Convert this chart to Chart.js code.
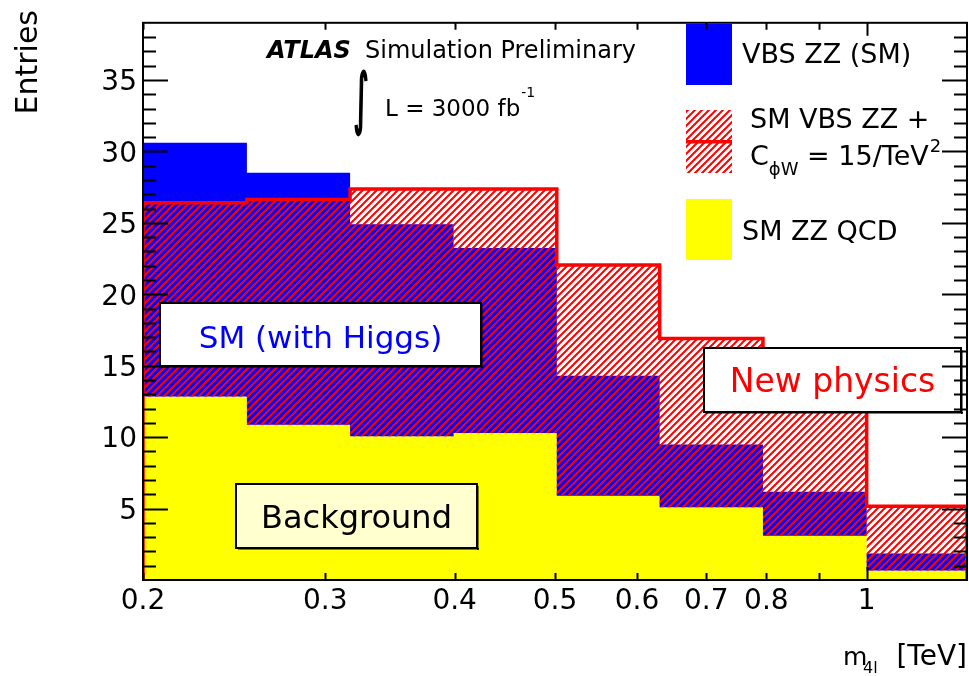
<!DOCTYPE html>
<html>
<head>
<meta charset="utf-8">
<script src="https://cdn.jsdelivr.net/npm/chart.js@4.4.1/dist/chart.umd.min.js"></script>
<style>
  html, body { margin: 0; padding: 0; background: #fff; }
  canvas { display: block; }
</style>
</head>
<body>
<canvas id="m4lChart" width="969" height="676"></canvas>
<script>
// m4l bin edges [TeV]
const binEdges = [0.2, 0.252, 0.317, 0.399, 0.502, 0.631, 0.794, 1.0, 1.25];
// entries per bin, one value per bin
const smZZQCD = [12.85, 10.86, 10.07, 10.29, 5.89, 5.09, 3.10, 0.66];
const vbsZZSM = [17.75, 17.64, 14.83, 12.95, 8.40, 4.40, 3.08, 1.19];
const vbsZZCphiW = [13.55, 15.78, 17.30, 17.08, 16.16, 11.81, 10.2, 4.50];

const xTickValues = [0.2, 0.3, 0.4, 0.5, 0.6, 0.7, 0.8, 0.9, 1.0];
const xTickLabels = ['0.2', '0.3', '0.4', '0.5', '0.6', '0.7', '0.8', '', '1'];
const yTickValues = [5, 10, 15, 20, 25, 30, 35];

const FONT = '"DejaVu Sans", "Liberation Sans", sans-serif';

function addUp(a, b) {
    return a.map((v, i) => v + b[i]);
}

// histogram as step points: one point per left edge, last edge repeats the last bin
function stepPoints(values, closed) {
    const pts = binEdges.map((e, i) => ({ x: e, y: values[Math.min(i, values.length - 1)] }));
    if (closed) {
        pts.unshift({ x: binEdges[0], y: 0 });
        pts.push({ x: binEdges[binEdges.length - 1], y: 0 });
    }
    return pts;
}

function makeHatch() {
    const c = document.createElement('canvas');
    c.width = 7; c.height = 7;
    const g = c.getContext('2d');
    g.strokeStyle = '#ff0000';
    g.lineWidth = 2;
    g.beginPath();
    g.moveTo(-1, 8); g.lineTo(8, -1);
    g.moveTo(-1, 1); g.lineTo(1, -1);
    g.moveTo(6, 8); g.lineTo(8, 6);
    g.stroke();
    return g.createPattern(c, 'repeat');
}

function put(ctx, str, x, y, size, opts) {
    opts = opts || {};
    ctx.font = (opts.style || '') + ' ' + size + 'px ' + FONT;
    ctx.fillStyle = opts.color || '#000';
    ctx.textAlign = opts.align || 'left';
    ctx.textBaseline = 'alphabetic';
    ctx.fillText(str, x, y);
    return ctx.measureText(str).width;
}

// draw a glyph stretched into a box (used for the integral sign)
function putFitted(ctx, str, size, box) {
    ctx.font = size + 'px ' + FONT;
    const m = ctx.measureText(str);
    const w = m.actualBoundingBoxLeft + m.actualBoundingBoxRight;
    const h = m.actualBoundingBoxAscent + m.actualBoundingBoxDescent;
    ctx.save();
    ctx.translate(box.x, box.y);
    ctx.scale(box.w / w, box.h / h);
    ctx.fillStyle = '#000';
    ctx.strokeStyle = '#000';
    ctx.lineWidth = 2.5;
    ctx.textAlign = 'left';
    ctx.textBaseline = 'alphabetic';
    ctx.fillText(str, m.actualBoundingBoxLeft, m.actualBoundingBoxAscent);
    ctx.strokeText(str, m.actualBoundingBoxLeft, m.actualBoundingBoxAscent);
    ctx.restore();
}

function labelBox(ctx, r, fill, str, color, size, baseline) {
    ctx.fillStyle = fill;
    ctx.fillRect(r.x, r.y, r.w, r.h);
    ctx.strokeStyle = '#000';
    ctx.lineWidth = 2;
    ctx.strokeRect(r.x, r.y, r.w, r.h);
    ctx.fillStyle = '#000';
    ctx.fillRect(r.x + r.w, r.y + 2, 1.5, r.h);
    ctx.fillRect(r.x + 2, r.y + r.h, r.w, 1.5);
    put(ctx, str, r.x + r.w / 2, baseline, size, { color: color, align: 'center' });
}

const hatch = makeHatch();

const rootStyle = {
    id: 'rootStyle',
    afterDraw(chart) {
        const { ctx, chartArea: a, scales: { x, y } } = chart;
        ctx.save();

        // y title
        ctx.save();
        ctx.translate(37, 10);
        ctx.rotate(-Math.PI / 2);
        put(ctx, 'Entries', 0, 0, 30, { align: 'right' });
        ctx.restore();

        // x title
        put(ctx, 'm', 843, 665, 25);
        put(ctx, '4l', 863, 673, 16);
        put(ctx, '[TeV]', 967, 665, 28, { align: 'right' });

        // ATLAS label
        put(ctx, 'ATLAS', 267, 58, 24, { style: 'italic bold' });
        put(ctx, 'Simulation Preliminary', 365, 58, 24);
        putFitted(ctx, '\u222B', 60, { x: 355, y: 70, w: 12, h: 65 });
        const lw = put(ctx, 'L = 3000 fb', 385, 116, 23);
        put(ctx, '-1', 385 + lw + 1, 97, 14);

        // legend
        ctx.fillStyle = '#0000ff';
        ctx.fillRect(686, 24, 46, 61);
        put(ctx, 'VBS ZZ (SM)', 742, 63, 27);
        ctx.fillStyle = hatch;
        ctx.fillRect(686, 110, 46, 63);
        ctx.fillStyle = '#ff0000';
        ctx.fillRect(686, 140, 46, 3.5);
        put(ctx, 'SM VBS ZZ +', 750, 128, 27);
        let cx = 750;
        cx += put(ctx, 'C', cx, 165, 27);
        cx += put(ctx, '\u03D5W', cx, 175, 18);
        cx += put(ctx, ' = 15/TeV', cx, 165, 27);
        put(ctx, '2', cx + 1, 152, 18);
        ctx.fillStyle = '#ffff00';
        ctx.fillRect(686, 199, 46, 61);
        put(ctx, 'SM ZZ QCD', 742, 240, 27);

        // annotation boxes
        labelBox(ctx, { x: 160, y: 303, w: 321, h: 63 }, '#ffffff', 'SM (with Higgs)', '#0000ff', 31, 348);
        labelBox(ctx, { x: 236, y: 484, w: 241, h: 64 }, '#ffffd0', 'Background', '#000000', 32, 528);
        labelBox(ctx, { x: 704, y: 348, w: 257, h: 64 }, '#ffffff', 'New physics', '#ff0000', 33, 392);

        // frame and inward ticks on all four sides
        ctx.strokeStyle = '#000';
        ctx.lineWidth = 2;
        ctx.strokeRect(a.left, a.top, a.right - a.left, a.bottom - a.top);
        ctx.beginPath();
        for (let v = 1; v < y.max; v++) {
            const py = Math.round(y.getPixelForValue(v)) + 0.5;
            const len = v % 5 === 0 ? 25 : 13;
            ctx.moveTo(a.left, py); ctx.lineTo(a.left + len, py);
            ctx.moveTo(a.right, py); ctx.lineTo(a.right - len, py);
        }
        for (const v of xTickValues) {
            const px = Math.round(x.getPixelForValue(v)) + 0.5;
            const len = v === 1.0 ? 13 : 7;
            ctx.moveTo(px, a.bottom); ctx.lineTo(px, a.bottom - len);
            ctx.moveTo(px, a.top); ctx.lineTo(px, a.top + len);
        }
        ctx.stroke();
        ctx.restore();
    }
};

const smTotal = addUp(smZZQCD, vbsZZSM);
const newTotal = addUp(smZZQCD, vbsZZCphiW);
const none = 'rgba(0,0,0,0)';

const ctx = document.getElementById('m4lChart').getContext('2d');
new Chart(ctx, {
    type: 'line',
    data: {
        datasets: [
            {
                label: 'SM VBS ZZ + CphiW = 15/TeV2',
                data: stepPoints(newTotal, true),
                borderColor: '#ff0000',
                borderWidth: 3.5,
                fill: false,
                stepped: true,
                pointRadius: 0
            },
            {
                label: 'hatch',
                data: stepPoints(newTotal),
                borderColor: none,
                borderWidth: 0,
                fill: { target: 3, above: hatch, below: hatch },
                stepped: true,
                pointRadius: 0
            },
            {
                label: 'VBS ZZ (SM)',
                data: stepPoints(smTotal),
                borderColor: none,
                borderWidth: 0,
                fill: { target: 3, above: '#0000ff', below: '#0000ff' },
                stepped: true,
                pointRadius: 0
            },
            {
                label: 'SM ZZ QCD',
                data: stepPoints(smZZQCD),
                borderColor: none,
                borderWidth: 0,
                backgroundColor: '#ffff00',
                fill: 'origin',
                stepped: true,
                pointRadius: 0
            }
        ]
    },
    options: {
        responsive: false,
        animation: false,
        devicePixelRatio: 1,
        layout: { padding: { top: 11, right: 2, left: 0, bottom: 0 } },
        plugins: {
            legend: { display: false },
            tooltip: { enabled: false }
        },
        scales: {
            x: {
                type: 'logarithmic',
                min: 0.2,
                max: 1.25,
                grid: { display: false, drawTicks: false },
                border: { display: false },
                afterBuildTicks: s => { s.ticks = xTickValues.map(v => ({ value: v })); },
                afterFit: s => { s.height = 96; },
                ticks: {
                    autoSkip: false,
                    maxRotation: 0,
                    minRotation: 0,
                    padding: 5,
                    color: '#000',
                    font: { family: FONT, size: 28 },
                    callback: (v, i) => xTickLabels[i]
                }
            },
            y: {
                min: 0,
                max: 39,
                grid: { display: false, drawTicks: false },
                border: { display: false },
                afterBuildTicks: s => { s.ticks = yTickValues.map(v => ({ value: v })); },
                afterFit: s => { s.width = 143; },
                ticks: {
                    padding: 6,
                    labelOffset: 3,
                    color: '#000',
                    font: { family: FONT, size: 28 },
                    callback: v => String(v)
                }
            }
        }
    },
    plugins: [rootStyle]
});
</script>
</body>
</html>
